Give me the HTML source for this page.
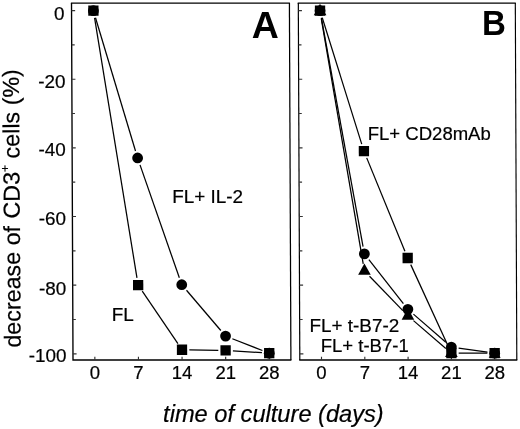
<!DOCTYPE html>
<html><head><meta charset="utf-8"><title>Figure</title>
<style>html,body{margin:0;padding:0;background:#fff}svg{display:block}</style>
</head><body>
<svg width="520" height="429" viewBox="0 0 520 429" font-family="'Liberation Sans', sans-serif" fill="#000">
<rect width="520" height="429" fill="#fff"/>
<g transform="skewX(0.24)">
<g stroke="#000" stroke-linecap="butt"><path d="M71.5,2.9 V360.0 H289.9" stroke-width="1.35" fill="none"/><path d="M70.9,3.2 H289.9" stroke-width="1.3" fill="none"/><path d="M289.4,2.9 V360.0" stroke-width="1.25" fill="none"/><path d="M298.3,2.9 V360.0" stroke-width="1.2" fill="none"/><path d="M297.7,360.0 H515.8" stroke-width="1.35" fill="none"/><path d="M297.7,3.2 H515.8" stroke-width="1.3" fill="none"/><path d="M515.3,2.9 V360.0" stroke-width="1.15" fill="none"/></g>
<g stroke="#333" stroke-width="1.15"><line x1="71.5" y1="10.55" x2="75.1" y2="10.55"/><line x1="71.5" y1="44.88" x2="74.5" y2="44.88"/><line x1="71.5" y1="79.20" x2="75.1" y2="79.20"/><line x1="71.5" y1="113.53" x2="74.5" y2="113.53"/><line x1="71.5" y1="147.85" x2="75.1" y2="147.85"/><line x1="71.5" y1="182.18" x2="74.5" y2="182.18"/><line x1="71.5" y1="216.50" x2="75.1" y2="216.50"/><line x1="71.5" y1="250.83" x2="74.5" y2="250.83"/><line x1="71.5" y1="285.15" x2="75.1" y2="285.15"/><line x1="71.5" y1="319.48" x2="74.5" y2="319.48"/><line x1="71.5" y1="353.80" x2="75.1" y2="353.80"/><line x1="298.3" y1="10.55" x2="301.90000000000003" y2="10.55"/><line x1="298.3" y1="44.88" x2="301.3" y2="44.88"/><line x1="298.3" y1="79.20" x2="301.90000000000003" y2="79.20"/><line x1="298.3" y1="113.53" x2="301.3" y2="113.53"/><line x1="298.3" y1="147.85" x2="301.90000000000003" y2="147.85"/><line x1="298.3" y1="182.18" x2="301.3" y2="182.18"/><line x1="298.3" y1="216.50" x2="301.90000000000003" y2="216.50"/><line x1="298.3" y1="250.83" x2="301.3" y2="250.83"/><line x1="298.3" y1="285.15" x2="301.90000000000003" y2="285.15"/><line x1="298.3" y1="319.48" x2="301.3" y2="319.48"/><line x1="298.3" y1="353.80" x2="301.90000000000003" y2="353.80"/><line x1="93.35" y1="360.0" x2="93.35" y2="356.8"/><line x1="136.95" y1="360.0" x2="136.95" y2="356.8"/><line x1="180.55" y1="360.0" x2="180.55" y2="356.8"/><line x1="224.15" y1="360.0" x2="224.15" y2="356.8"/><line x1="267.75" y1="360.0" x2="267.75" y2="356.8"/><line x1="320.00" y1="360.0" x2="320.00" y2="356.8"/><line x1="363.30" y1="360.0" x2="363.30" y2="356.8"/><line x1="406.60" y1="360.0" x2="406.60" y2="356.8"/><line x1="449.90" y1="360.0" x2="449.90" y2="356.8"/><line x1="493.20" y1="360.0" x2="493.20" y2="356.8"/></g>
<g stroke="#000" stroke-width="1.25"><line x1="95.42" y1="17.70" x2="134.88" y2="150.98"/><line x1="139.32" y1="164.88" x2="178.18" y2="277.80"/><line x1="185.27" y1="290.27" x2="219.43" y2="330.51"/><line x1="230.94" y1="338.74" x2="260.96" y2="350.53"/><line x1="94.50" y1="17.91" x2="135.80" y2="277.83"/><line x1="141.03" y1="291.10" x2="176.47" y2="343.72"/><line x1="187.85" y1="349.89" x2="216.85" y2="350.35"/><line x1="231.44" y1="350.92" x2="260.46" y2="352.74"/><line x1="321.20" y1="18.59" x2="362.10" y2="263.80"/><line x1="368.37" y1="276.25" x2="401.53" y2="310.61"/><line x1="412.13" y1="320.63" x2="444.37" y2="348.43"/><line x1="321.28" y1="17.89" x2="362.02" y2="246.69"/><line x1="367.79" y1="259.63" x2="402.11" y2="303.61"/><line x1="412.11" y1="314.15" x2="444.39" y2="342.24"/><line x1="457.13" y1="348.06" x2="485.97" y2="352.17"/><line x1="322.15" y1="17.68" x2="361.15" y2="144.15"/><line x1="366.04" y1="157.89" x2="403.86" y2="251.22"/><line x1="409.62" y1="264.63" x2="446.88" y2="346.55"/><line x1="457.20" y1="353.20" x2="485.90" y2="353.20"/></g>
<g><circle cx="93.35" cy="10.70" r="5.4"/><circle cx="136.95" cy="157.97" r="5.4"/><circle cx="180.55" cy="284.70" r="5.4"/><circle cx="224.15" cy="336.07" r="5.4"/><circle cx="267.75" cy="353.20" r="5.4"/><rect x="88.20" y="5.55" width="10.3" height="10.3"/><rect x="131.80" y="279.89" width="10.3" height="10.3"/><rect x="175.40" y="344.62" width="10.3" height="10.3"/><rect x="219.00" y="345.31" width="10.3" height="10.3"/><rect x="262.60" y="348.05" width="10.3" height="10.3"/><polygon points="320.00,3.78 326.30,15.19 313.70,15.19"/><polygon points="363.30,263.40 369.60,274.80 357.00,274.80"/><polygon points="406.60,308.27 412.90,319.67 400.30,319.67"/><polygon points="449.90,345.60 456.20,357.00 443.60,357.00"/><polygon points="493.20,348.70 499.20,357.80 487.20,357.80"/><circle cx="320.00" cy="10.70" r="5.4"/><circle cx="363.30" cy="253.87" r="5.4"/><circle cx="406.60" cy="309.36" r="5.4"/><circle cx="449.90" cy="347.03" r="5.4"/><circle cx="493.20" cy="353.20" r="5.4"/><rect x="314.85" y="5.55" width="10.3" height="10.3"/><rect x="358.15" y="145.97" width="10.3" height="10.3"/><rect x="401.45" y="252.84" width="10.3" height="10.3"/><rect x="444.75" y="348.05" width="10.3" height="10.3"/><rect x="488.05" y="348.05" width="10.3" height="10.3"/></g>
</g>
<g font-size="18px" stroke="#000" stroke-width="0.2"><text transform="translate(64.58,19.8) scale(1.05,1)" text-anchor="end">0</text><text transform="translate(65.47,88.4) scale(1.05,1)" text-anchor="end">-20</text><text transform="translate(65.76,156.4) scale(1.05,1)" text-anchor="end">-40</text><text transform="translate(66.04,224.8) scale(1.05,1)" text-anchor="end">-60</text><text transform="translate(66.34,294.5) scale(1.05,1)" text-anchor="end">-80</text><text transform="translate(66.62,362.3) scale(1.05,1)" text-anchor="end">-100</text><text transform="translate(94.8,379.4) scale(1.03,1)" text-anchor="middle">0</text><text transform="translate(138.4,379.4) scale(1.03,1)" text-anchor="middle">7</text><text transform="translate(182.1,379.4) scale(1.03,1)" text-anchor="middle">14</text><text transform="translate(225.7,379.4) scale(1.03,1)" text-anchor="middle">21</text><text transform="translate(269.2,379.4) scale(1.03,1)" text-anchor="middle">28</text><text transform="translate(321.5,379.4) scale(1.03,1)" text-anchor="middle">0</text><text transform="translate(364.8,379.4) scale(1.03,1)" text-anchor="middle">7</text><text transform="translate(408.1,379.4) scale(1.03,1)" text-anchor="middle">14</text><text transform="translate(451.4,379.4) scale(1.03,1)" text-anchor="middle">21</text><text transform="translate(494.7,379.4) scale(1.03,1)" text-anchor="middle">28</text>
<text transform="translate(172.2,203.1) scale(1.05,1)">FL+ IL-2</text>
<text transform="translate(111.8,321.0) scale(1.05,1)">FL</text>
<text transform="translate(367.7,139.6) scale(1.03,1)">FL+ CD28mAb</text>
<text transform="translate(309.5,331.5) scale(1.05,1)">FL+ t-B7-2</text>
<text transform="translate(320.7,351.5) scale(1.03,1)">FL+ t-B7-1</text>
</g>
<g font-weight="bold">
<text font-size="36.4px" transform="translate(251.7,37.5) scale(1.03,1)">A</text>
<text font-size="35.4px" transform="translate(482.1,34.6) scale(0.935,1)">B</text>
</g>
<text font-size="23.2px" stroke="#000" stroke-width="0.2" transform="translate(20.7,347.6) rotate(-90.4) scale(1.004,1)">decrease of <tspan dx="1">CD3</tspan><tspan font-size="12px" dy="-10.5">+</tspan><tspan dy="10.5"> cells (%)</tspan></text>
<text font-size="23.7px" font-style="italic" stroke="#000" stroke-width="0.2" transform="translate(163.1,421.7) scale(0.998,1)">time of culture (days)</text>
</svg>
</body></html>
